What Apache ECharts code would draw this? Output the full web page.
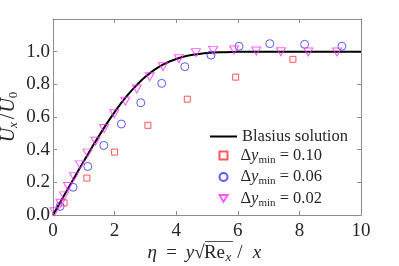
<!DOCTYPE html>
<html><head><meta charset="utf-8">
<script src="https://cdn.jsdelivr.net/npm/echarts@6/dist/echarts.min.js"></script>
<style>html,body{margin:0;padding:0;background:#fff}#c{width:399px;height:266px}</style>
</head><body><div id="c"></div>
<script>
// Blasius solution (eta, f')
const blasiusEta = [0,0.2,0.4,0.6,0.8,1.0,1.2,1.4,1.6,1.8,2.0,2.2,2.4,2.6,2.8,3.0,3.2,3.4,3.6,3.8,4.0,4.2,4.4,4.6,4.8,5.0,5.4,5.8,6.2,6.6,7.0,8.0,9.0,10.0];
const blasiusU   = [0,0.0664,0.1328,0.1989,0.2647,0.3298,0.3938,0.4563,0.5168,0.5748,0.6298,0.6813,0.7290,0.7725,0.8115,0.8461,0.8761,0.9018,0.9233,0.9411,0.9555,0.9670,0.9759,0.9827,0.9878,0.9916,0.9962,0.9984,0.9994,0.9998,0.9999,1.0,1.0,1.0];
// dy_min = 0.10
const eta010 = [0.36,1.10,2.00,3.08,4.36,5.93,7.79];
const u010   = [0.074,0.226,0.385,0.549,0.709,0.844,0.953];
// dy_min = 0.06
const eta006 = [0.23,0.65,1.13,1.65,2.22,2.85,3.53,4.28,5.13,6.04,7.04,8.17,9.38];
const u006   = [0.053,0.170,0.297,0.426,0.557,0.687,0.806,0.908,0.979,1.033,1.049,1.045,1.033];
// dy_min = 0.02
const eta002 = [0.05,0.24,0.36,0.49,0.68,0.88,1.12,1.38,1.66,1.99,2.35,2.72,3.14,3.57,4.09,4.64,5.20,5.88,6.60,7.40,8.29,9.22];
const u002   = [0.02,0.072,0.117,0.174,0.235,0.307,0.379,0.452,0.530,0.620,0.696,0.771,0.846,0.908,0.957,0.994,1.008,1.010,1.004,1.000,0.998,0.998];
const xTicks = [0,2,4,6,8,10];
const yTicks = [0,0.2,0.4,0.6,0.8,1.0];
const lineName = 'Blasius solution';
const markerNames = ['dy010','dy006','dy002'];
const legendVals = {dy010:'0.10', dy006:'0.06', dy002:'0.02'};

const zip = (a,b)=>a.map((v,i)=>[v,b[i]]);
const FONT = '"Liberation Serif", "DejaVu Serif", serif';
const TXT = '#262626';
const AX = '#8c8c8c';
const TF = 19;

const chart = echarts.init(document.getElementById('c'), null, {renderer:'canvas'});

const axisCommon = {
  axisLine:{show:true,onZero:false,lineStyle:{color:AX,width:1}},
  axisTick:{show:true,inside:true,length:4,lineStyle:{color:AX,width:1}},
  splitLine:{show:false}
};
const legendRich = {
  r:{fontFamily:FONT,fontSize:16.5,color:TXT,lineHeight:20},
  p:{fontFamily:FONT,fontSize:16.5,color:TXT,lineHeight:20,padding:[0,0,0,8]},
  i:{fontFamily:FONT,fontStyle:'italic',fontSize:16.5,color:TXT,lineHeight:20},
  s:{fontFamily:FONT,fontSize:11,color:TXT,lineHeight:8,verticalAlign:'bottom'}
};
const it = (w,al)=>({fontFamily:FONT,fontStyle:'italic',fontSize:TF,color:TXT,lineHeight:22,width:w,align:al||'left'});
const rm = (w,al)=>({fontFamily:FONT,fontSize:TF,color:TXT,lineHeight:22,width:w,align:al||'left'});

chart.setOption({
  animation:false,
  backgroundColor:'#fff',
  grid:{left:53,right:38,top:19,bottom:51,containLabel:false,outerBoundsMode:'none'},
  xAxis:[
    Object.assign({type:'value',min:0,max:10,interval:2,position:'bottom',
      axisLabel:{show:true,margin:7,color:TXT,fontFamily:FONT,fontSize:TF,
        formatter:v=>xTicks.includes(v)?String(v):''},
      name:'{e|η}{q|=}{y|y}{sq|√}{re|Re}{sx|x}{sl|/}{x|x}',
      nameLocation:'middle',nameGap:27,nameMoveOverlap:false,
      nameTextStyle:{color:TXT,fontFamily:FONT,fontSize:TF,
        rich:{
          e:it(10), q:rm(28,'center'), y:it(9), sq:rm(10), re:rm(20),
          sx:{fontFamily:FONT,fontStyle:'italic',fontSize:13,color:TXT,lineHeight:10,verticalAlign:'bottom',width:8},
          sl:rm(15,'center'), x:it(19)
        }}
    },axisCommon),
    Object.assign({type:'value',min:0,max:10,interval:2,position:'top',axisLabel:{show:false}},axisCommon)
  ],
  yAxis:[
    Object.assign({type:'value',min:0,max:1.2,interval:0.2,position:'left',
      axisLabel:{show:true,margin:3,color:TXT,fontFamily:FONT,fontSize:TF,
        formatter:v=>yTicks.some(t=>Math.abs(t-v)<1e-6)?v.toFixed(1):''},
      name:'{i|U}{si|x}{r|/}{i|U}{s|0}',
      nameLocation:'middle',nameGap:33,nameRotate:90,nameMoveOverlap:false,
      nameTextStyle:{color:TXT,fontFamily:FONT,fontSize:TF,
        rich:{
          i:{fontFamily:FONT,fontStyle:'italic',fontSize:20,color:TXT,lineHeight:22},
          r:{fontFamily:FONT,fontSize:20,color:TXT,lineHeight:22,padding:[0,1,0,3]},
          si:{fontFamily:FONT,fontStyle:'italic',fontSize:13,color:TXT,lineHeight:10,verticalAlign:'bottom'},
          s:{fontFamily:FONT,fontSize:13,color:TXT,lineHeight:10,verticalAlign:'bottom'}
        }}
    },axisCommon),
    Object.assign({type:'value',min:0,max:1.2,interval:0.2,position:'right',axisLabel:{show:false}},axisCommon)
  ],
  legend:[
    {orient:'vertical',left:210,top:128,padding:0,itemWidth:27,itemHeight:2,itemGap:0,
      data:[{name:lineName,icon:'rect',itemStyle:{color:'#000'}}],
      formatter:n=>'{r|'+n+'}',
      textStyle:{color:TXT,fontFamily:FONT,fontSize:16.5,rich:legendRich}},
    {orient:'vertical',left:218.5,top:147,padding:0,itemWidth:8,itemHeight:8,itemGap:3,
      data:[{name:'dy010'},{name:'dy006'},{name:'dy002',icon:'path://M0,0 L10,0 L5,8.5 Z'}],
      formatter:n=>'{p|Δ}{i|y}{s|min}{r| = '+legendVals[n]+'}',
      textStyle:{color:TXT,fontFamily:FONT,fontSize:16.5,rich:legendRich}}
  ],
  series:[
    {name:lineName,type:'line',data:zip(blasiusEta,blasiusU),showSymbol:false,symbol:'none',
      smooth:0.3,lineStyle:{color:'#000',width:2},itemStyle:{color:'#000'},z:2},
    {name:'dy010',type:'scatter',data:zip(eta010,u010),symbol:'rect',symbolSize:6,
      itemStyle:{color:'rgba(0,0,0,0)',borderColor:'#ff3030',borderWidth:1},z:3},
    {name:'dy006',type:'scatter',data:zip(eta006,u006),symbol:'circle',symbolSize:8,
      itemStyle:{color:'rgba(0,0,0,0)',borderColor:'#3030ff',borderWidth:1},z:3},
    {name:'dy002',type:'scatter',data:zip(eta002,u002),symbol:'triangle',symbolRotate:180,symbolSize:[9,8],
      itemStyle:{color:'rgba(0,0,0,0)',borderColor:'#ff30ff',borderWidth:1},z:3}
  ],
  graphic:[
    {type:'line',shape:{x1:205,y1:241.5,x2:233,y2:241.5},style:{stroke:TXT,lineWidth:0.8},silent:true}
  ]
});
</script></body></html>
